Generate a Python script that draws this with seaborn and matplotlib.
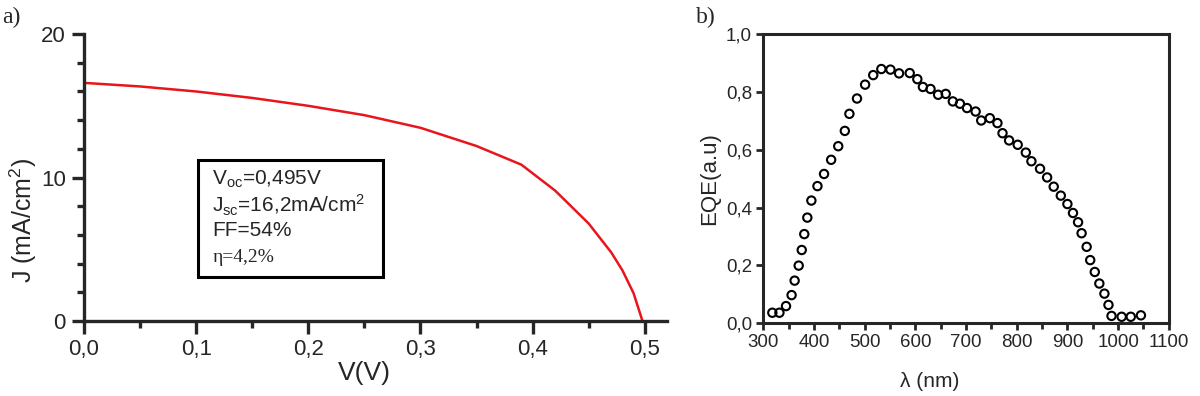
import matplotlib
matplotlib.use('Agg')
import matplotlib.pyplot as plt
from matplotlib.patches import Rectangle
from matplotlib.ticker import MultipleLocator, FuncFormatter
import pandas as pd
import seaborn as sns


# J-V curve
voltage = [0.0, 0.05, 0.10, 0.15, 0.20, 0.25, 0.30, 0.35, 0.39, 0.42,
           0.45, 0.47, 0.48, 0.49, 0.498]
current = [16.6, 16.35, 16.0, 15.55, 15.0, 14.35, 13.47, 12.2, 10.9, 9.1,
           6.8, 4.8, 3.55, 1.95, 0.0]

# EQE spectrum
wavelength = [318, 332, 345, 356, 362, 370, 376, 381, 387, 395, 407, 420,
              434, 448, 461, 470, 485, 501, 517, 533, 551, 568, 589, 604,
              615, 630, 645, 660, 674, 688, 702, 719, 730, 747, 762, 772,
              785, 802, 818, 829, 846, 860, 873, 887, 900, 911, 921, 928,
              938, 945, 954, 963, 973, 981, 987, 1007, 1025, 1045]
eqe = [0.036, 0.036, 0.059, 0.097, 0.147, 0.199, 0.253, 0.308, 0.365, 0.424,
       0.474, 0.516, 0.565, 0.612, 0.665, 0.724, 0.777, 0.825, 0.858, 0.879,
       0.877, 0.864, 0.865, 0.844, 0.817, 0.810, 0.790, 0.793, 0.767, 0.759,
       0.744, 0.732, 0.701, 0.709, 0.692, 0.657, 0.632, 0.617, 0.590, 0.560,
       0.534, 0.504, 0.472, 0.441, 0.412, 0.381, 0.349, 0.311, 0.264, 0.218,
       0.177, 0.137, 0.102, 0.063, 0.025, 0.022, 0.022, 0.027]

params_lines = [r'V$_{\rm oc}$=0,495V', r'J$_{\rm sc}$=16,2mA/cm$^{2}$', 'FF=54%']
eta_line = 'η=4,2%'

sns.set_style('ticks')
plt.rcParams['font.family'] = ['Liberation Sans', 'DejaVu Sans']
plt.rcParams['mathtext.fontset'] = 'custom'
plt.rcParams['mathtext.rm'] = 'Liberation Sans'
plt.rcParams['mathtext.it'] = 'Liberation Sans:italic'

comma1 = FuncFormatter(lambda v, p: ('%.1f' % v).replace('.', ','))

fig = plt.figure(figsize=(12, 3.96), dpi=100)
ax1 = fig.add_axes([0.07, 0.189, 0.486, 0.725])
ax2 = fig.add_axes([0.636, 0.184, 0.338, 0.73])

# ---- panel a
jv = pd.DataFrame({'V': voltage, 'J': current})
sns.lineplot(data=jv, x='V', y='J', ax=ax1, color='#e8161c', lw=1.8,
             sort=False, estimator=None)
ax1.set_xlim(0, 0.52)
ax1.set_ylim(0, 20)
sns.despine(ax=ax1)
for s in ['left', 'bottom']:
    ax1.spines[s].set_linewidth(2.4)
ax1.xaxis.set_major_locator(MultipleLocator(0.1))
ax1.xaxis.set_minor_locator(MultipleLocator(0.05))
ax1.yaxis.set_major_locator(MultipleLocator(10))
ax1.yaxis.set_minor_locator(MultipleLocator(2))
ax1.xaxis.set_major_formatter(comma1)
ax1.tick_params(which='major', length=9, width=2.4, labelsize=16, pad=4)
ax1.tick_params(which='minor', length=5, width=2.4)
ax1.set_xlabel('V(V)', fontsize=19)
ax1.set_ylabel('J (mA/cm$^{2}$)', fontsize=18)
ax1.xaxis.set_label_coords(0.48, -0.14)
ax1.yaxis.set_label_coords(-0.078, 0.35)

ax1.add_patch(Rectangle((0.196, 0.153), 0.317, 0.408, transform=ax1.transAxes,
                        fill=False, lw=2.2, ec='black', zorder=5))
for txt, yy in zip(params_lines, [0.495, 0.404, 0.317]):
    ax1.text(0.22, yy, txt, transform=ax1.transAxes, fontsize=15,
             va='center', ha='left')
ax1.text(0.22, 0.22, eta_line, transform=ax1.transAxes, fontsize=14,
         va='center', ha='left', family=['Liberation Serif', 'DejaVu Serif'])

# ---- panel b
df = pd.DataFrame({'wl': wavelength, 'eqe': eqe})
sns.scatterplot(data=df, x='wl', y='eqe', ax=ax2, marker='o', s=36,
                facecolor='none', edgecolor='black', linewidth=1.5)
ax2.set_xlim(300, 1100)
ax2.set_ylim(0, 1.0)
for s in ax2.spines.values():
    s.set_linewidth(2.2)
ax2.xaxis.set_major_locator(MultipleLocator(100))
ax2.xaxis.set_minor_locator(MultipleLocator(50))
ax2.yaxis.set_major_locator(MultipleLocator(0.2))
ax2.yaxis.set_major_formatter(comma1)
ax2.tick_params(which='major', length=5, width=2, labelsize=13.5, pad=3)
ax2.tick_params(axis='x', which='minor', length=4, width=2)
ax2.set_xlabel('λ (nm)', fontsize=15)
ax2.set_ylabel('EQE(a.u)', fontsize=16)
ax2.xaxis.set_label_coords(0.41, -0.17)
ax2.yaxis.set_label_coords(-0.105, 0.5)

fig.text(0.002, 0.955, 'a)', fontsize=17, family=['Liberation Serif'],
         va='center')
fig.text(0.58, 0.955, 'b)', fontsize=17, family=['Liberation Serif'],
         va='center')

fig.savefig('out.png', dpi=100)
